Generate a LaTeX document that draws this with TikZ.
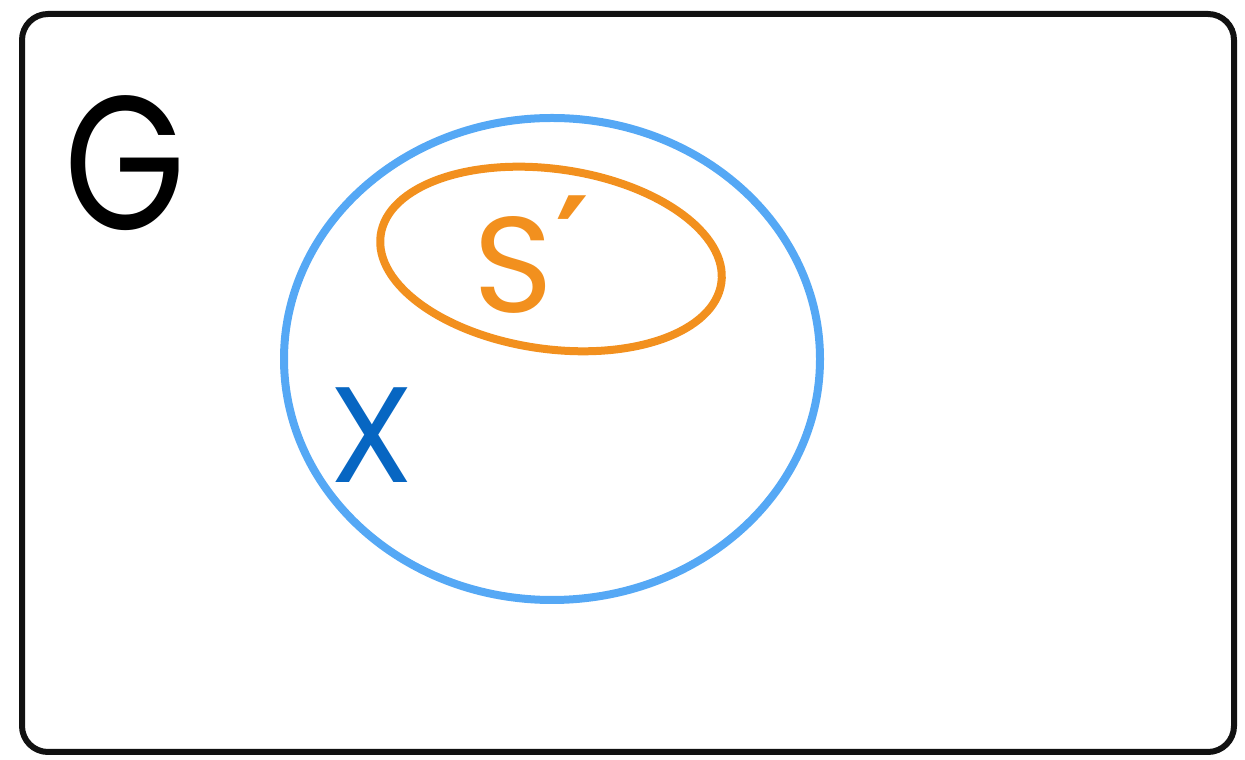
\documentclass[tikz,border=0pt]{standalone}
\usepackage{fontspec}
\setmainfont{Poppins}
\newfontfamily\primefont{DejaVu Sans}
\definecolor{frameblack}{HTML}{111111}
\definecolor{ringblue}{HTML}{55A8F5}
\definecolor{subsetorange}{HTML}{F2901E}
\definecolor{labelblue}{HTML}{0766C2}
\tikzset{
  framebox/.style={draw=frameblack, line width=6pt, rounded corners=26pt},
  ring/.style={draw=ringblue, line width=8pt},
  subring/.style={draw=subsetorange, line width=8pt},
  biglabel/.style={inner sep=0pt, font=\fontsize{190}{190}\selectfont},
  midlabel/.style={inner sep=0pt, font=\fontsize{136}{136}\selectfont},
}
\begin{document}
\begin{tikzpicture}[x=1pt,y=1pt]
\useasboundingbox (0,0) rectangle (1245,760);
\draw[framebox] (22,8) rectangle (1234,746);
\draw[ring] (552,401) ellipse [x radius=268, y radius=241];
\draw[subring, rotate around={-8:(551,501)}] (551,501) ellipse [x radius=172, y radius=90];
\node[biglabel, text=black, anchor=base, xscale=0.82] (g) at (125,530) {G};
\node[midlabel, text=subsetorange, anchor=base west] (s) at (473,447) {S\hspace{2pt}\raisebox{22pt}{\primefont\bfseries\fontsize{130}{130}\selectfont ′}};
\node[midlabel, text=labelblue, anchor=base] (x) at (372,277) {X};
\end{tikzpicture}
\end{document}
